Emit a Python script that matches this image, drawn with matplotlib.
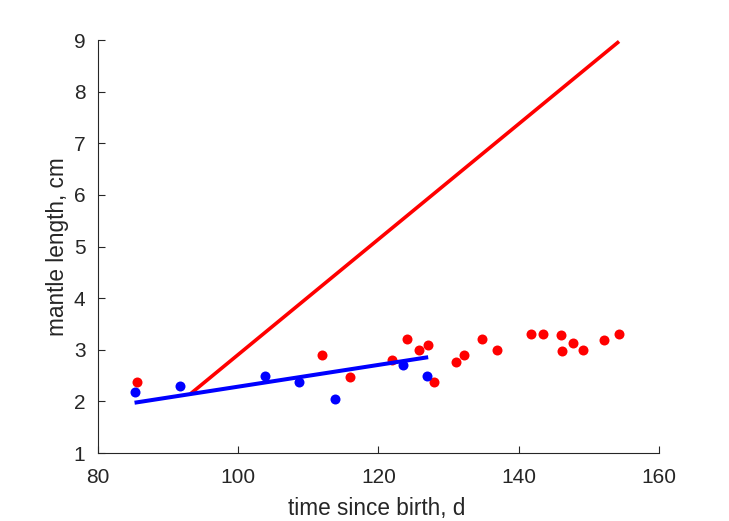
import matplotlib
matplotlib.use("Agg")
import matplotlib.pyplot as plt

plt.rcParams['font.family'] = ['Liberation Sans', 'DejaVu Sans']

red_t = [85.5, 111.9, 115.9, 121.9, 124.1, 125.8, 127.1, 127.9, 131.0, 132.2,
         134.7, 136.9, 141.8, 143.4, 146.0, 146.1, 147.7, 149.1, 152.1, 154.3]
red_L = [2.38, 2.90, 2.48, 2.80, 3.20, 2.99, 3.09, 2.37, 2.77, 2.90,
         3.21, 2.99, 3.31, 3.31, 3.28, 2.98, 3.13, 3.00, 3.18, 3.31]
blue_t = [85.3, 91.7, 103.8, 108.7, 113.8, 123.5, 126.9]
blue_L = [2.19, 2.30, 2.49, 2.38, 2.04, 2.70, 2.49]

blue_fit_t = [85.5, 126.8]
blue_fit_L = [1.98, 2.85]
red_fit_t = [93.4, 154.1]
red_fit_L = [2.17, 8.95]

fig = plt.figure(figsize=(7.29, 5.21), dpi=100)
ax = fig.add_axes([0.1344, 0.1305, 0.7696, 0.7927])

ax.plot(red_t, red_L, 'o', color=(1, 0, 0), markersize=7.2, markeredgewidth=0)
ax.plot(blue_t, blue_L, 'o', color=(0, 0, 1), markersize=7.2, markeredgewidth=0)
ax.plot(red_fit_t, red_fit_L, '-', color=(1, 0, 0), linewidth=2.6)
ax.plot(blue_fit_t, blue_fit_L, '-', color=(0, 0, 1), linewidth=2.9)

ax.set_xlim(80, 160)
ax.set_ylim(1, 9)
ax.set_xticks([80, 100, 120, 140, 160])
ax.set_yticks(range(1, 10))
ax.spines['top'].set_visible(False)
ax.spines['right'].set_visible(False)
gray = (0.15, 0.15, 0.15)
for s in ['left', 'bottom']:
    ax.spines[s].set_color(gray)
    ax.spines[s].set_linewidth(0.8)
ax.tick_params(direction='in', length=5, colors=gray, labelsize=15, width=0.8)
ax.tick_params(axis='x', pad=10.5)
ax.tick_params(axis='y', pad=9)
ax.set_xlabel('time since birth, d', fontsize=16.3, color=gray, va='center')
ax.set_ylabel('mantle length, cm', fontsize=16.3, color=gray, va='center')
ax.xaxis.set_label_coords(0.4964, -0.1332)
ax.yaxis.set_label_coords(-0.0713, 0.5)

fig.savefig('out.png', dpi=100)
